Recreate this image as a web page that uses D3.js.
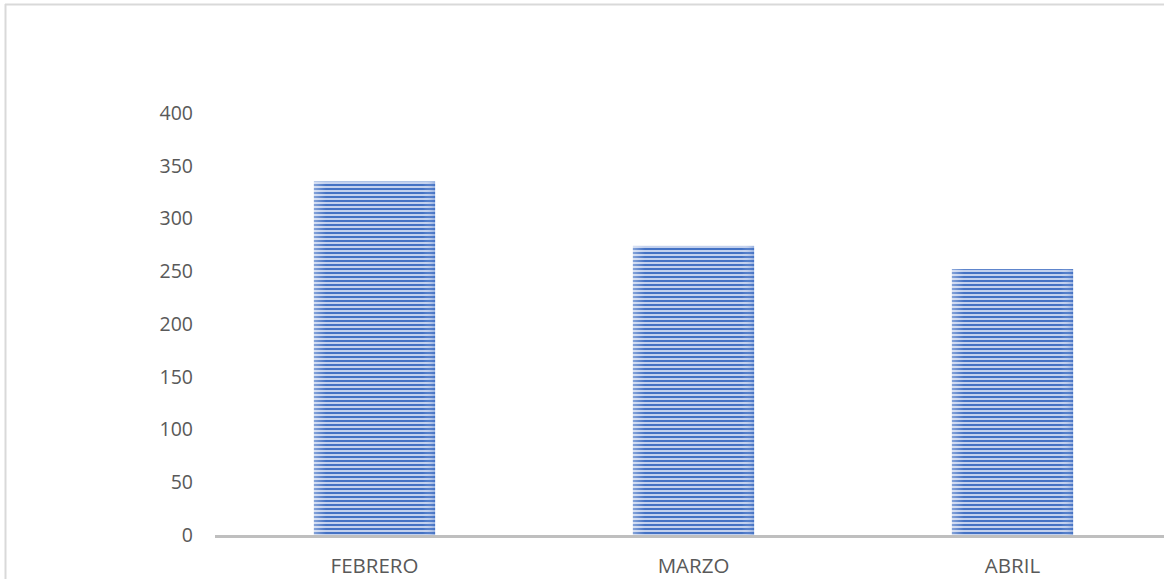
<!DOCTYPE html>
<html>
<head>
<meta charset="utf-8">
<script src="https://cdn.jsdelivr.net/npm/d3@7"></script>
<style>
  html, body { margin: 0; padding: 0; background: #ffffff; }
  svg { display: block; }
</style>
</head>
<body>
<script>
const categories = ["FEBRERO", "MARZO", "ABRIL"];
const values = [335, 274, 252];
const yTicks = [0, 50, 100, 150, 200, 250, 300, 350, 400];

const W = 1164, H = 579;
const svg = d3.select("body").append("svg").attr("width", W).attr("height", H);

// outer frame (partial, clipped by viewport)
svg.append("line").attr("x1", 5.5).attr("x2", 5.5).attr("y1", 4).attr("y2", H).attr("stroke", "#d9d9d9").attr("stroke-width", 2);
svg.append("line").attr("x1", 5).attr("x2", W).attr("y1", 4.5).attr("y2", 4.5).attr("stroke", "#d9d9d9").attr("stroke-width", 2);

const defs = svg.append("defs");
const pat = defs.append("pattern").attr("id", "stripes").attr("patternUnits", "userSpaceOnUse")
  .attr("width", 8).attr("height", 4);
pat.append("rect").attr("width", 8).attr("height", 4).attr("fill", "#c3d1ee");
pat.append("rect").attr("width", 8).attr("height", 2).attr("fill", "#4472c4");

const grad = defs.append("linearGradient").attr("id", "edge").attr("x1", 0).attr("x2", 1).attr("y1", 0).attr("y2", 0);
grad.append("stop").attr("offset", 0).attr("stop-color", "#ffffff").attr("stop-opacity", 0.35);
grad.append("stop").attr("offset", 0.1).attr("stop-color", "#ffffff").attr("stop-opacity", 0);
grad.append("stop").attr("offset", 0.9).attr("stop-color", "#ffffff").attr("stop-opacity", 0);
grad.append("stop").attr("offset", 1).attr("stop-color", "#4472c4").attr("stop-opacity", 0.35);

const x = d3.scaleBand().domain(categories).range([215, 1172]).padding(0);
const y = d3.scaleLinear().domain([0, 400]).range([535, 113]);
const barW = x.bandwidth() * 0.38;

const g = svg.append("g");
g.selectAll("rect.bar").data(categories).enter().append("rect")
  .attr("class", "bar")
  .attr("x", d => x(d) + (x.bandwidth() - barW) / 2)
  .attr("width", barW)
  .attr("y", (d, i) => y(values[i]))
  .attr("height", (d, i) => y(0) - y(values[i]))
  .attr("fill", "url(#stripes)");
g.selectAll("rect.edge").data(categories).enter().append("rect")
  .attr("class", "edge")
  .attr("x", d => x(d) + (x.bandwidth() - barW) / 2)
  .attr("width", barW)
  .attr("y", (d, i) => y(values[i]))
  .attr("height", (d, i) => y(0) - y(values[i]))
  .attr("fill", "url(#edge)");

// y axis labels
const yAxis = d3.axisLeft(y).tickValues(yTicks).tickSize(0).tickPadding(0);
const ya = svg.append("g").attr("transform", "translate(193,0)").call(yAxis);
ya.select(".domain").remove();
ya.selectAll("text").attr("font-family", "'Open Sans', sans-serif").attr("font-size", 19.5).attr("fill", "#595959");

// x axis line
svg.append("line").attr("x1", 215).attr("x2", W).attr("y1", y(0) + 1.5).attr("y2", y(0) + 1.5)
  .attr("stroke", "#bfbfbf").attr("stroke-width", 3);

const xAxis = d3.axisBottom(x).tickSize(0).tickPadding(0);
const xa = svg.append("g").attr("transform", "translate(0,558)").call(xAxis);
xa.select(".domain").remove();
xa.selectAll("text").attr("font-family", "'Open Sans', sans-serif").attr("font-size", 20.5).attr("fill", "#595959");
</script>
</body>
</html>
